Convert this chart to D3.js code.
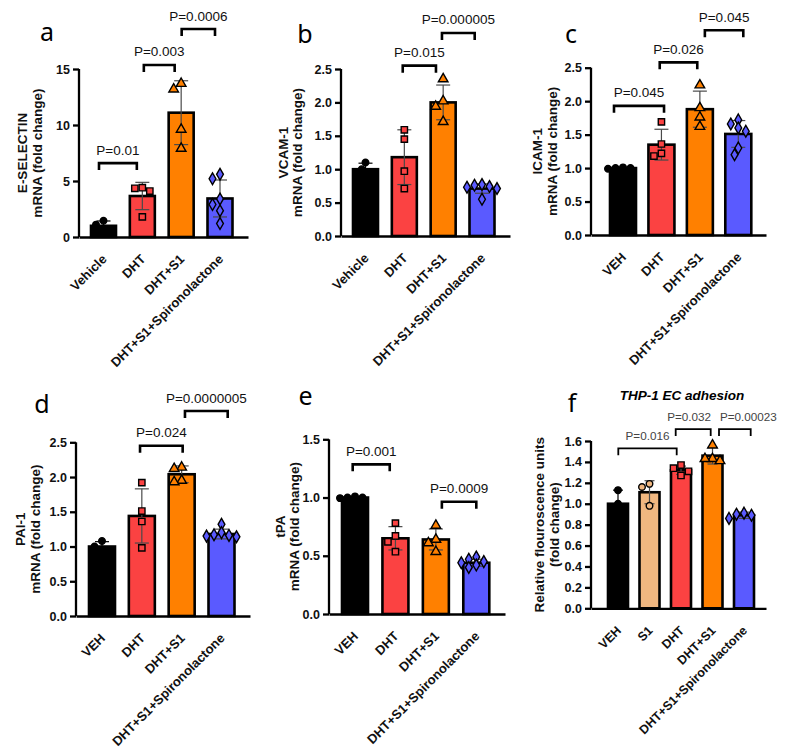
<!DOCTYPE html>
<html><head><meta charset="utf-8">
<script src="https://cdn.jsdelivr.net/npm/d3@7"></script>
<style>body{margin:0;background:#fff}svg{display:block}text{font-family:"Liberation Sans",Arial,sans-serif}</style>
</head><body><svg id="chart" width="787" height="754"></svg>
<script>
// ---------- DATA ----------
const groupsA = ["Vehicle","DHT","DHT+S1","DHT+S1+Spironolactone"];
const groupsB = ["Vehicle","DHT","DHT+S1","DHT+S1+Spironolactone"];
const groupsC = ["VEH","DHT","DHT+S1","DHT+S1+Spironolactone"];
const groupsD = ["VEH","DHT","DHT+S1","DHT+S1+Spironolactone"];
const groupsE = ["VEH","DHT","DHT+S1","DHT+S1+Spironolactone"];
const groupsF = ["VEH","S1","DHT","DHT+S1","DHT+S1+Spironolactone"];

const meansA = [1.0, 3.66, 11.1, 3.44];
const sdA    = [0.43, 1.22, 2.85, 1.65];
const pointsA = [[1.45,1.1,0.45],[4.4,4.35,4.1,1.8],[13.7,13.2,9.6,7.9],[5.6,5.2,3.4,2.9,2.35,1.2]];
const ticksA = [0,5,10,15];

const meansB = [1.0, 1.18, 2.0, 0.71];
const sdB    = [0.09, 0.41, 0.26, 0.07];
const pointsB = [[1.1,1.0,0.9],[1.59,1.45,0.97,0.71],[2.35,2.02,1.94,1.71],[0.77,0.76,0.74,0.73,0.71,0.55]];
const ticksB = [0,0.5,1.0,1.5,2.0,2.5];

const meansC = [1.0, 1.35, 1.88, 1.51];
const sdC    = [0.01, 0.23, 0.27, 0.2];
const pointsC = [[1.01,1.0,1.0,0.99],[1.69,1.36,1.22,1.18],[2.24,1.9,1.76,1.62],[1.72,1.66,1.6,1.55,1.3,1.2]];
const ticksC = [0,0.5,1.0,1.5,2.0,2.5];

const meansD = [1.0, 1.44, 2.04, 1.18];
const sdD    = [0.07, 0.39, 0.12, 0.07];
const pointsD = [[1.08,1.0,0.92],[1.92,1.51,1.36,0.98],[2.14,2.12,1.95,1.93],[1.32,1.2,1.17,1.16,1.15,1.14]];
const ticksD = [0,0.5,1.0,1.5,2.0,2.5];

const meansE = [1.0, 0.65, 0.64, 0.44];
const sdE    = [0.01, 0.1, 0.09, 0.03];
const pointsE = [[1.01,1.0,1.0,0.995],[0.78,0.67,0.62,0.535],[0.76,0.64,0.61,0.535],[0.49,0.47,0.45,0.44,0.42,0.4]];
const ticksE = [0,0.5,1.0,1.5];

const meansF = [1.0, 1.11, 1.32, 1.46, 0.89];
const sdF    = [0.13, 0.11, 0.04, 0.08, 0.03];
const pointsF = [[1.13,1.0,0.87],[1.19,1.16,0.98],[1.37,1.34,1.31,1.27],[1.56,1.43,1.43,1.41],[0.91,0.9,0.89,0.86]];
const ticksF = [0,0.2,0.4,0.6,0.8,1.0,1.2,1.4,1.6];

// brackets: [from group, to group, height (data units), label]
const bracketsA = [[0,1,6.6,"P=0.01"],[1,2,15.36,"P=0.003"],[2,3,18.57,"P=0.0006"]];
const bracketsB = [[1,2,2.55,"P=0.015"],[2,3,3.04,"P=0.000005"]];
const bracketsC = [[0,1,1.93,"P=0.045"],[1,2,2.58,"P=0.026"],[2,3,3.06,"P=0.045"]];
const bracketsD = [[1,2,2.45,"P=0.024"],[2,3,2.95,"P=0.0000005"]];
const bracketsE = [[0,1,1.285,"P=0.001"],[2,3,0.964,"P=0.0009"]];
const bracketsF = [[0,2,1.53,"P=0.016"],[2,3,1.714,"P=0.032"],[3,4,1.714,"P=0.00023"]];

const ylabA = ["E-SELECTIN","mRNA (fold change)"];
const ylabB = ["VCAM-1","mRNA (fold change)"];
const ylabC = ["ICAM-1","mRNA (fold change)"];
const ylabD = ["PAI-1","mRNA (fold change)"];
const ylabE = ["tPA","mRNA (fold change)"];
const ylabF = ["Relative flouroscence units","(fold change)"];

// ---------- STYLE / LAYOUT ----------
const BLACK="#000000", RED="#fb4242", ORANGE="#ff8000", BLUE="#5a5aff", TAN="#f0b780";
const col4 = [BLACK,RED,ORANGE,BLUE];
const sym4 = [d3.symbolCircle,d3.symbolSquare,d3.symbolTriangle,d3.symbolDiamond];
const col5 = [BLACK,TAN,RED,ORANGE,BLUE];
const sym5 = [d3.symbolCircle,d3.symbolCircle,d3.symbolSquare,d3.symbolTriangle,d3.symbolDiamond];

// bracket geometry tweaks (pixel offsets from bar centres: left, right, text)
const brOffA = [[-4.5,-5.5,0],[1.5,-6.5,0],[0.5,-5,0]];
const brOffB = [[-1.6,-7.2,0],[-1.2,-7.3,0]];
const brOffC = [[-9,2.6,0],[-1.7,-2.6,0],[5,5,0]];
const brOffD = [[-1.8,1,0],[3.3,6.2,0]];
const brOffE = [[-2.3,-5.7,0],[6,0,0]];
const brOffF = [[0.3,-4.3,0],[-5.3,-1.8,-4],[6.5,6.7,13.5]];

const panels = [
 {letter:"a",lx:47,ly:41,groups:groupsA,means:meansA,sd:sdA,pts:pointsA,ticks:ticksA,fmt:d3.format("d"),br:bracketsA,bo:brOffA,ylab:ylabA,
  axisX:79,axisEnd:248,y0:237,yTop:69,yMax:15,c0:103.5,c1:220,barW:25,labX:[22,37],col:col4,sym:sym4},
 {letter:"b",lx:305,ly:43,groups:groupsB,means:meansB,sd:sdB,pts:pointsB,ticks:ticksB,fmt:d3.format(".1f"),br:bracketsB,bo:brOffB,ylab:ylabB,
  axisX:341,axisEnd:510,y0:236,yTop:69,yMax:2.5,c0:365.5,c1:482,barW:25,labX:[283,297],col:col4,sym:sym4},
 {letter:"c",lx:571,ly:43,groups:groupsC,means:meansC,sd:sdC,pts:pointsC,ticks:ticksC,fmt:d3.format(".1f"),br:bracketsC,bo:brOffC,ylab:ylabC,
  axisX:591,axisEnd:766,y0:235,yTop:67.7,yMax:2.5,c0:623,c1:738.3,barW:26,labX:[537,552],col:col4,sym:sym4},
 {letter:"d",lx:42,ly:413,groups:groupsD,means:meansD,sd:sdD,pts:pointsD,ticks:ticksD,fmt:d3.format(".1f"),br:bracketsD,bo:brOffD,ylab:ylabD,
  axisX:76,axisEnd:250,y0:616,yTop:442.3,yMax:2.5,c0:102,c1:221.5,barW:26,labX:[20,35],col:col4,sym:sym4},
 {letter:"e",lx:305.5,ly:405,groups:groupsE,means:meansE,sd:sdE,pts:pointsE,ticks:ticksE,fmt:d3.format(".1f"),br:bracketsE,bo:brOffE,ylab:ylabE,
  axisX:329,axisEnd:505,y0:614,yTop:439.3,yMax:1.5,c0:355,c1:476.3,barW:26,labX:[280,294],col:col4,sym:sym4},
 {letter:"f",lx:572,ly:412,groups:groupsF,means:meansF,sd:sdF,pts:pointsF,ticks:ticksF,fmt:d3.format(".1f"),br:bracketsF,bo:brOffF,ylab:ylabF,
  axisX:591,axisEnd:766,y0:608.3,yTop:441,yMax:1.6,c0:618,c1:744,barW:20,labX:[539,554],col:col5,sym:sym5,small:true,
  title:"THP-1 EC adhesion",titleX:682,titleY:400}
];

const svg = d3.select("#chart");

function swarm(vals, y, cx, step){
  const placed=[];
  return vals.map(v=>{
    const py=y(v); let dx=0;
    for(let k=0;k<30;k++){
      const cand = k===0?0:(k%2?-1:1)*Math.ceil(k/2)*step*0.5;
      if(placed.every(p=>Math.hypot(p.x-cand,p.y-py)>=step)){dx=cand;break;}
    }
    placed.push({x:dx,y:py});
    return {x:cx+dx,y:py,v};
  });
}

panels.forEach(P=>{
  const g = svg.append("g");
  const y = d3.scaleLinear().domain([0,P.yMax]).range([P.y0,P.yTop]);
  const x = d3.scalePoint().domain(P.groups).range([P.c0,P.c1]);

  g.append("text").attr("x",P.lx).attr("y",P.ly).attr("text-anchor","middle")
    .style("font-family","'Noto Sans','Open Sans',sans-serif").style("font-size","25px").text(P.letter);
  if(P.title){
    g.append("text").attr("x",P.titleX).attr("y",P.titleY).attr("text-anchor","middle")
      .style("font-size","13.5px").style("font-weight","bold").style("font-style","italic").text(P.title);
  }

  const yAxis = d3.axisLeft(y).tickValues(P.ticks).tickFormat(P.fmt).tickSize(6).tickPadding(3);
  const ya = g.append("g").attr("transform",`translate(${P.axisX},0)`).call(yAxis);
  ya.select(".domain").attr("stroke","#000").attr("stroke-width",2.3).attr("d",`M0,${P.yTop}V${P.y0}`);
  ya.selectAll(".tick line").attr("stroke","#000").attr("stroke-width",2.3);
  ya.selectAll(".tick text").style("font-size","12.5px").style("font-weight","bold").attr("fill","#111")
    .style("font-family","'Liberation Sans',Arial,sans-serif");

  const xs = d3.scaleLinear().domain([0,1]).range([P.axisX,P.axisEnd]);
  const xa = g.append("g").attr("transform",`translate(0,${P.y0})`).call(d3.axisBottom(xs).tickValues([]).tickSizeOuter(0));
  xa.select(".domain").attr("stroke","#000").attr("stroke-width",2.3);

  P.ylab.forEach((t,i)=>{
    g.append("text").attr("transform",`translate(${P.labX[i]+4.5},${(P.y0+P.yTop)/2}) rotate(-90)`)
      .attr("text-anchor","middle").style("font-size","13.5px").style("font-weight","bold").attr("fill","#111").text(t);
  });

  g.selectAll("rect.bar").data(P.groups).join("rect").attr("class","bar")
    .attr("x",d=>x(d)-P.barW/2).attr("width",P.barW)
    .attr("y",(d,i)=>y(P.means[i])).attr("height",(d,i)=>P.y0-y(P.means[i]))
    .attr("fill",(d,i)=>P.col[i]).attr("stroke","#000").attr("stroke-width",2.6);

  const capW = P.small?10:14;
  P.groups.forEach((gname,i)=>{
    const cx=x(gname), hi=y(P.means[i]+P.sd[i]), lo=y(P.means[i]-P.sd[i]);
    const eb=g.append("g").attr("stroke",i===0?"#000":"#4a4a4a").attr("stroke-width",1.2);
    eb.append("line").attr("x1",cx).attr("x2",cx).attr("y1",hi).attr("y2",lo);
    eb.append("line").attr("x1",cx-capW/2).attr("x2",cx+capW/2).attr("y1",hi).attr("y2",hi);
    eb.append("line").attr("x1",cx-capW/2).attr("x2",cx+capW/2).attr("y1",lo).attr("y2",lo);
  });

  P.groups.forEach((gname,i)=>{
    const pos = swarm(P.pts[i], y, x(gname), 7.5);
    const sym = P.sym[i];
    const size = sym===d3.symbolSquare?40:(sym===d3.symbolCircle?34:40);
    g.selectAll(null).data(pos).join("path")
      .attr("transform",d=>`translate(${d.x},${d.y})`)
      .attr("d",d3.symbol().type(sym).size(size))
      .attr("fill",P.col[i]).attr("stroke","#000").attr("stroke-width",1.4);
  });

  P.groups.forEach(gname=>{
    g.append("text").attr("transform",`translate(${x(gname)+4},${P.y0+23}) rotate(-45)`)
      .attr("text-anchor","end").style("font-size",P.small?"12.5px":"13px").style("font-weight","bold").attr("fill","#111").text(gname);
  });

  P.br.forEach(([a,b,h,lab],k)=>{
    const o=P.bo[k];
    const x1=x(P.groups[a])+o[0], x2=x(P.groups[b])+o[1], yy=y(h);
    g.append("path").attr("d",`M${x1},${yy+7}V${yy}H${x2}V${yy+7}`)
      .attr("fill","none").attr("stroke","#000").attr("stroke-width",P.small?1.8:2.6);
    g.append("text").attr("x",(x1+x2)/2+o[2]).attr("y",yy-8.5).attr("text-anchor","middle")
      .style("font-size",P.small?"11.7px":"13.5px").attr("fill",P.small?"#444":"#111").text(lab);
  });
});
</script></body></html>
